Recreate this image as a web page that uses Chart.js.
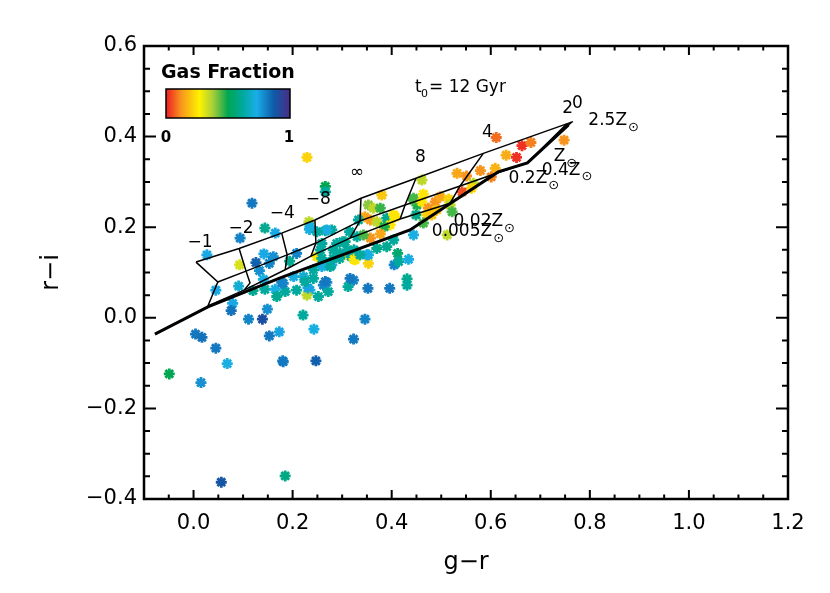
<!DOCTYPE html>
<html>
<head>
<meta charset="utf-8">
<script src="https://cdn.jsdelivr.net/npm/chart.js@4.4.0/dist/chart.umd.min.js"></script>
<style>
  html, body { margin: 0; padding: 0; background: #fff; }
  #wrap { width: 830px; height: 593px; }
</style>
</head>
<body>
<div id="wrap"><canvas id="myChart" width="830" height="593"></canvas></div>
<script>

  var xTicks = [0.0, 0.2, 0.4, 0.6, 0.8, 1.0, 1.2];
  var yTicks = [-0.4, -0.2, 0.0, 0.2, 0.4, 0.6];

  // galaxies: g-r, r-i, gas fraction
  var grValues = [
    0.027, 0.093, 0.094, 0.118, 0.144, 0.165, 0.233, 0.126, 0.142, 0.153,
    0.161, 0.133, 0.045, 0.079, 0.076, 0.111, 0.139, 0.149, 0.120, 0.141,
    0.144, 0.165, 0.168, 0.178, 0.185, 0.004, 0.017, 0.045, 0.068, 0.153,
    0.173, 0.180, 0.091, 0.194, 0.208, 0.202, 0.181, 0.221, 0.249, 0.259,
    0.279, 0.304, 0.326, 0.353, 0.353, 0.323, 0.262, 0.235, 0.252, 0.272,
    0.229, 0.208, 0.222, 0.242, 0.243, -0.049, 0.015, 0.181, 0.247, 0.323,
    0.346, 0.352, 0.396, 0.405, 0.434, 0.412, 0.431, 0.390, 0.312, 0.056,
    0.185, 0.269, 0.231, 0.266, 0.225, 0.242, 0.316, 0.229, 0.266, 0.266,
    0.380, 0.234, 0.266, 0.279, 0.315, 0.330, 0.353, 0.363, 0.377, 0.346,
    0.357, 0.370, 0.390, 0.407, 0.397, 0.385, 0.377, 0.357, 0.343, 0.324,
    0.310, 0.318, 0.324, 0.350, 0.269, 0.282, 0.259, 0.295, 0.276, 0.282,
    0.256, 0.289, 0.306, 0.370, 0.451, 0.449, 0.444, 0.404, 0.431, 0.333,
    0.404, 0.301, 0.269, 0.249, 0.235, 0.259, 0.296, 0.336, 0.414, 0.611,
    0.663, 0.681, 0.631, 0.652, 0.532, 0.551, 0.579, 0.609, 0.601, 0.461,
    0.565, 0.561, 0.542, 0.464, 0.444, 0.461, 0.488, 0.498, 0.515, 0.474,
    0.491, 0.471, 0.518, 0.522, 0.464, 0.444, 0.512, 0.748, 0.481
  ];
  var riValues = [
    0.139, 0.117, 0.176, 0.253, 0.198, 0.187, 0.212, 0.122, 0.141, 0.120,
    0.135, 0.104, 0.061, 0.032, 0.016, -0.003, -0.003, 0.019, 0.060, 0.085,
    0.063, 0.063, 0.047, 0.078, 0.058, -0.036, -0.043, -0.067, -0.101, -0.040,
    -0.031, -0.095, 0.070, 0.125, 0.142, 0.091, 0.076, 0.006, 0.135, 0.113,
    0.117, 0.139, 0.128, 0.120, 0.139, 0.083, 0.072, 0.061, 0.047, 0.058,
    0.050, 0.061, 0.091, 0.106, -0.025, -0.124, -0.143, -0.097, -0.095, -0.047,
    -0.003, 0.065, 0.065, 0.117, 0.129, 0.142, 0.086, 0.157, 0.069, -0.363,
    -0.349, 0.078, 0.066, 0.080, 0.080, 0.087, 0.087, 0.354, 0.290, 0.278,
    0.271, 0.195, 0.192, 0.194, 0.190, 0.179, 0.249, 0.242, 0.242, 0.223,
    0.216, 0.212, 0.220, 0.223, 0.205, 0.201, 0.185, 0.176, 0.183, 0.150,
    0.150, 0.135, 0.129, 0.139, 0.120, 0.131, 0.131, 0.131, 0.113, 0.150,
    0.150, 0.164, 0.168, 0.153, 0.249, 0.227, 0.264, 0.227, 0.072, 0.216,
    0.172, 0.168, 0.194, 0.190, 0.201, 0.164, 0.142, 0.139, 0.124, 0.398,
    0.380, 0.387, 0.359, 0.354, 0.319, 0.313, 0.325, 0.330, 0.311, 0.304,
    0.297, 0.286, 0.278, 0.273, 0.260, 0.256, 0.256, 0.267, 0.262, 0.242,
    0.238, 0.227, 0.249, 0.234, 0.209, 0.183, 0.183, 0.392, 0.227
  ];
  var gasFraction = [
    .74, .32, .80, .82, .60, .74, .35, .86, .74, .80,
    .78, .78, .74, .74, .83, .80, .90, .78, .60, .72,
    .62, .72, .60, .80, .62, .82, .83, .82, .72, .82,
    .75, .80, .70, .60, .80, .72, .80, .62, .25, .72,
    .72, .25, .25, .22, .72, .80, .80, .72, .62, .62,
    .35, .62, .70, .62, .72, .50, .78, .82, .86, .82,
    .80, .82, .82, .80, .72, .55, .60, .60, .62, .88,
    .58, .78, .75, .82, .62, .62, .82, .22, .50, .62,
    .20, .72, .62, .62, .62, .62, .40, .35, .46, .15,
    .13, .35, .60, .25, .25, .48, .15, .12, .45, .62,
    .62, .62, .25, .72, .72, .62, .62, .62, .62, .62,
    .62, .62, .60, .60, .48, .58, .45, .25, .62, .62,
    .62, .62, .72, .62, .72, .62, .62, .62, .62, .08,
    .02, .10, .16, .02, .15, .12, .12, .17, .10, .35,
    .35, .22, .05, .25, .45, .25, .12, .15, .22, .12,
    .20, .22, .35, .45, .45, .72, .35, .12, .20
  ];

  // model grid: metallicity tracks and lines of constant tau, [g-r, r-i]
  var trackTop = [[0.005, 0.123], [0.092, 0.153], [0.178, 0.187], [0.245, 0.216], [0.338, 0.264], [0.449, 0.308], [0.585, 0.363], [0.766, 0.433]];
  var trackMid = [[0.049, 0.079], [0.106, 0.103], [0.189, 0.139], [0.247, 0.165], [0.336, 0.214], [0.427, 0.249], [0.538, 0.291], [0.619, 0.322], [0.674, 0.342], [0.753, 0.428]];
  var trackLow = [[0.029, 0.026], [0.102, 0.061], [0.185, 0.106], [0.237, 0.136], [0.316, 0.176], [0.417, 0.218], [0.518, 0.253], [0.615, 0.322]];
  var trackThick = [[-0.078, -0.036], [0.029, 0.024], [0.175, 0.088], [0.437, 0.194], [0.615, 0.322], [0.674, 0.342], [0.757, 0.426]];
  var trackEdge = [[0.680, 0.348], [0.763, 0.432]];
  var tauLines = [
    [[0.005, 0.123], [0.049, 0.079], [0.029, 0.026]],
    [[0.092, 0.153], [0.106, 0.103], [0.114, 0.077], [0.102, 0.061]],
    [[0.178, 0.187], [0.189, 0.139], [0.185, 0.106]],
    [[0.245, 0.216], [0.247, 0.165], [0.237, 0.136]],
    [[0.338, 0.264], [0.336, 0.214], [0.316, 0.176]],
    [[0.449, 0.308], [0.427, 0.249], [0.417, 0.218]],
    [[0.585, 0.363], [0.538, 0.291], [0.518, 0.253]]
  ];

  var tauLabels = ['\u22121', '\u22122', '\u22124', '\u22128', '\u221e', '8', '4', '2', '0'];
  var tauGR = [0.013, 0.096, 0.179, 0.252, 0.330, 0.458, 0.593, 0.755, 0.775];
  var tauRI = [0.165, 0.196, 0.229, 0.262, 0.320, 0.353, 0.408, 0.461, 0.472];

  var metalLabels = ['2.5Z', 'Z', '0.4Z', '0.2Z', '0.02Z', '0.005Z'];
  var metalGR = [0.797, 0.727, 0.703, 0.636, 0.525, 0.481];
  var metalRI = [0.435, 0.356, 0.326, 0.308, 0.212, 0.190];

  var gasStops = [0, 0.12, 0.27, 0.38, 0.5, 0.62, 0.73, 0.87, 1];
  var gasColours = ['#ed1c24', '#f7941d', '#fff200', '#a6ce39', '#00a651', '#00a99d', '#1aaee8', '#0f5aa8', '#4b2c86'];

  function hexRgb(h) {
    return [parseInt(h.substr(1, 2), 16), parseInt(h.substr(3, 2), 16), parseInt(h.substr(5, 2), 16)];
  }

  function gasColour(f) {
    for (var i = 1; i < gasStops.length; i++) {
      if (f <= gasStops[i]) {
        var t = (f - gasStops[i - 1]) / (gasStops[i] - gasStops[i - 1]);
        var a = hexRgb(gasColours[i - 1]), b = hexRgb(gasColours[i]);
        return 'rgb(' + Math.round(a[0] + (b[0] - a[0]) * t) + ',' + Math.round(a[1] + (b[1] - a[1]) * t) + ',' + Math.round(a[2] + (b[2] - a[2]) * t) + ')';
      }
    }
    return gasColours[gasColours.length - 1];
  }

  function gridLine(pts, width) {
    return {
      data: pts.map(function (p) { return { x: p[0], y: p[1] }; }),
      showLine: true,
      borderColor: '#000',
      borderWidth: width,
      pointRadius: 0,
      fill: false,
      order: 0
    };
  }

  var pointColours = gasFraction.map(gasColour);

  var datasets = [
    gridLine(trackTop, 1.5),
    gridLine(trackMid, 1.5),
    gridLine(trackLow, 1.5),
    gridLine(trackThick, 3),
    gridLine(trackEdge, 1.5)
  ];
  tauLines.forEach(function (l) { datasets.push(gridLine(l, 1.5)); });
  datasets.push({
    data: grValues.map(function (v, i) { return { x: v, y: riValues[i] }; }),
    pointStyle: 'star',
    pointRadius: 5.5,
    pointBorderWidth: 2.8,
    pointBorderColor: pointColours,
    pointBackgroundColor: pointColours,
    order: 1
  });

  var framePlugin = {
    id: 'frame',
    afterDatasetsDraw: function (chart) {
      var ctx = chart.ctx, a = chart.chartArea, xs = chart.scales.x, ys = chart.scales.y;
      ctx.save();
      ctx.strokeStyle = '#000';
      ctx.lineWidth = 2;
      ctx.beginPath();
      var k, v, p, len;
      for (k = -2; k <= 24; k++) {
        v = k * 0.05;
        p = xs.getPixelForValue(v);
        len = (k % 4 === 0) ? 9 : 4.5;
        ctx.moveTo(p, a.bottom); ctx.lineTo(p, a.bottom - len);
        ctx.moveTo(p, a.top); ctx.lineTo(p, a.top + len);
      }
      for (k = -8; k <= 12; k++) {
        v = k * 0.05;
        p = ys.getPixelForValue(v);
        len = (k % 4 === 0) ? 12 : 6;
        ctx.moveTo(a.left, p); ctx.lineTo(a.left + len, p);
        ctx.moveTo(a.right, p); ctx.lineTo(a.right - len, p);
      }
      ctx.stroke();
      ctx.lineWidth = 2.5;
      ctx.strokeRect(a.left, a.top, a.right - a.left, a.bottom - a.top);
      ctx.restore();
    }
  };

  var labelPlugin = {
    id: 'labels',
    afterDraw: function (chart) {
      var ctx = chart.ctx, xs = chart.scales.x, ys = chart.scales.y;
      ctx.save();
      ctx.fillStyle = '#000';

      // tau labels
      ctx.font = '17px "DejaVu Sans"';
      ctx.textAlign = 'center';
      ctx.textBaseline = 'middle';
      tauLabels.forEach(function (t, i) {
        ctx.fillText(t, xs.getPixelForValue(tauGR[i]), ys.getPixelForValue(tauRI[i]));
      });

      // metallicity labels
      ctx.textAlign = 'left';
      metalLabels.forEach(function (t, i) {
        var px = xs.getPixelForValue(metalGR[i]), py = ys.getPixelForValue(metalRI[i]);
        ctx.font = '17px "DejaVu Sans"';
        ctx.fillText(t, px, py);
        var w = ctx.measureText(t).width;
        ctx.font = '13px "DejaVu Sans"';
        ctx.fillText('\u2299', px + w + 1, py + 7);
      });

      // t0 text
      ctx.font = '17px "DejaVu Sans"';
      ctx.fillText('t', 415, 88);
      ctx.font = '11px "DejaVu Sans"';
      ctx.fillText('0', 421, 94);
      ctx.font = '17px "DejaVu Sans"';
      ctx.fillText('= 12 Gyr', 429, 88);

      // gas fraction colour bar
      ctx.font = 'bold 19px "DejaVu Sans"';
      ctx.fillText('Gas Fraction', 161, 73);
      var g = ctx.createLinearGradient(166, 0, 290, 0);
      gasStops.forEach(function (s, i) { g.addColorStop(s, gasColours[i]); });
      ctx.fillStyle = g;
      ctx.fillRect(166, 89, 124, 29);
      ctx.strokeStyle = '#000';
      ctx.lineWidth = 1.5;
      ctx.strokeRect(166, 89, 124, 29);
      ctx.fillStyle = '#000';
      ctx.font = 'bold 15px "DejaVu Sans"';
      ctx.textAlign = 'center';
      ctx.fillText('0', 166, 138);
      ctx.fillText('1', 289, 138);
      ctx.restore();
    }
  };

  new Chart(document.getElementById('myChart'), {
    type: 'scatter',
    data: { datasets: datasets },
    options: {
      responsive: false,
      animation: false,
      devicePixelRatio: 1,
      layout: { padding: { left: 0, top: 46, right: 42, bottom: 0 } },
      plugins: { legend: { display: false }, tooltip: { enabled: false } },
      scales: {
        x: {
          min: -0.1,
          max: 1.2,
          afterFit: function (s) { s.height = 94; },
          afterBuildTicks: function (s) { s.ticks = xTicks.map(function (v) { return { value: v }; }); },
          grid: { display: false, drawTicks: false },
          border: { display: false },
          ticks: {
            padding: 12,
            color: '#000',
            font: { family: 'DejaVu Sans', size: 21 },
            callback: function (v) { return v.toFixed(1); }
          },
          title: {
            display: true,
            text: 'g\u2212r',
            color: '#000',
            font: { family: 'DejaVu Sans', size: 24 },
            padding: { top: 0, bottom: 16 }
          }
        },
        y: {
          min: -0.4,
          max: 0.6,
          afterFit: function (s) { s.width = 144; },
          afterBuildTicks: function (s) { s.ticks = yTicks.map(function (v) { return { value: v }; }); },
          grid: { display: false, drawTicks: false },
          border: { display: false },
          ticks: {
            padding: 7,
            color: '#000',
            font: { family: 'DejaVu Sans', size: 21 },
            callback: function (v) { return (v < 0 ? '\u2212' : '') + Math.abs(v).toFixed(1); }
          },
          title: {
            display: true,
            text: 'r\u2212i',
            color: '#000',
            font: { family: 'DejaVu Sans', size: 24 },
            padding: { top: 37, bottom: 0 }
          }
        }
      }
    },
    plugins: [framePlugin, labelPlugin]
  });

</script>
</body>
</html>
